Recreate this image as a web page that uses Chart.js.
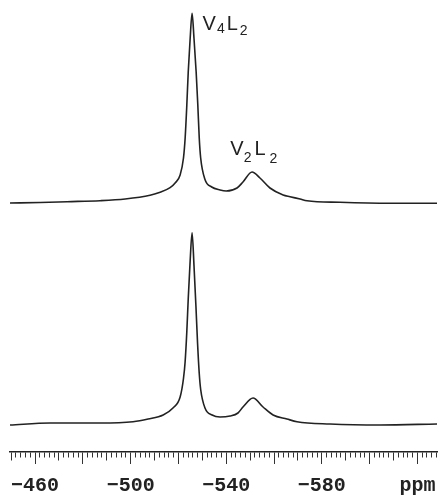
<!DOCTYPE html>
<html>
<head>
<meta charset="utf-8">
<script src="https://cdn.jsdelivr.net/npm/chart.js"></script>
<style>
  body { margin: 0; background: #fff; }
  #wrap { width: 439px; height: 495px; }
</style>
</head>
<body>
<div id="wrap"><canvas id="nmr"></canvas></div>
<script>
// upper spectrum, chemical shift (ppm) and intensity above its own baseline
const topPpm = [-449.5, -462.1, -473.4, -487.2, -497.7, -508.1, -512.0, -516.5, -518.6, -520.7, -522.1, -522.8, -523.5,
  -524.1, -524.9, -525.7, -526.5, -527.4, -528.1, -528.7, -529.3, -531.1, -533.9, -537.4, -540.0, -544.5, -547.0,
  -550.8, -554.1, -558.3, -563.8, -566.7, -570.9, -573.8, -587.6, -608.5, -628.2];
const topInt = [0.5, 1, 1.8, 2.8, 4.5, 8.2, 11.0, 15.8, 20.5, 28.5, 45.5, 65.5, 98.5,
  131.8, 165.2, 190.2, 165.2, 131.8, 98.5, 65.5, 45.5, 24.0, 16.5, 13.5, 12.5, 15.5, 21.5,
  31.5, 25.5, 15.5, 8.5, 6.8, 4.5, 2.8, 1.2, 0.2, 0.2];

// lower spectrum
const lowPpm = [-449.5, -466.3, -487.2, -501.0, -507.3, -513.6, -517.7, -520.7, -522.1, -522.8, -523.5, -524.1, -524.9,
  -525.7, -526.5, -527.3, -528.0, -528.7, -529.3, -531.1, -534.1, -537.4, -541.6, -544.9, -547.0, -551.2, -555.4,
  -559.6, -565.4, -569.6, -583.4, -604.4, -628.2];
const lowInt = [-1.5, 0.5, 0.5, 1.8, 4.5, 8.5, 15.5, 26.5, 45, 62, 92, 125, 163,
  190.8, 158, 118, 80, 50, 34, 15.5, 8.5, 6.5, 7.5, 10.5, 16.5, 25.5, 16.5,
  8.5, 4.5, 1.8, -0.5, -1.5, -0.5];

// axis
const tickLabels = [-460, -500, -540, -580];
const unitLabel = 'ppm';
const unitAt = -620;
const tickStep = 2;

const toPoints = (xs, ys) => xs.map((x, i) => ({ x: x, y: ys[i] }));

const tickValues = [];
for (let v = -628; v <= -450; v += tickStep) tickValues.push(v);

const ink = '#222';

const peakLabels = {
  id: 'peakLabels',
  afterDatasetsDraw(chart) {
    const ctx = chart.ctx;
    const xs = chart.scales.x;
    const yh = chart.scales.yHigh;
    const big = '20px "Liberation Sans", Arial, sans-serif';
    const small = '14px "Liberation Sans", Arial, sans-serif';
    const drawFormula = (parts, x, y) => {
      ctx.save();
      ctx.fillStyle = ink;
      ctx.textBaseline = 'alphabetic';
      parts.forEach(p => {
        ctx.font = p.sub ? small : big;
        ctx.fillText(p.t, x, y + (p.sub ? p.dy : 0));
        x += ctx.measureText(p.t).width + p.gap;
      });
      ctx.restore();
    };
    drawFormula([
      { t: 'V', gap: 1 }, { t: '4', sub: true, dy: 3, gap: 2 },
      { t: 'L', gap: 2 }, { t: '2', sub: true, dy: 5, gap: 0 }
    ], xs.getPixelForValue(-530.1), yh.getPixelForValue(173.5));
    drawFormula([
      { t: 'V', gap: 0 }, { t: '2', sub: true, dy: 7, gap: 3 },
      { t: 'L', gap: 4 }, { t: '2', sub: true, dy: 8, gap: 0 }
    ], xs.getPixelForValue(-541.7), yh.getPixelForValue(48.5));
  }
};

new Chart(document.getElementById('nmr'), {
  type: 'line',
  data: {
    datasets: [{
      label: 'upper',
      data: toPoints(topPpm, topInt),
      yAxisID: 'yHigh',
      borderColor: ink,
      borderWidth: 1.6,
      pointRadius: 0,
      cubicInterpolationMode: 'monotone',
      fill: false,
    }, {
      label: 'lower',
      data: toPoints(lowPpm, lowInt),
      yAxisID: 'yLow',
      borderColor: ink,
      borderWidth: 1.6,
      pointRadius: 0,
      cubicInterpolationMode: 'monotone',
      fill: false,
    }],
  },
  options: {
    responsive: true,
    maintainAspectRatio: false,
    animation: false,
    layout: { padding: { top: 5, left: 10, right: 2, bottom: 0 } },
    plugins: { legend: { display: false }, tooltip: { enabled: false } },
    scales: {
      x: {
        type: 'linear',
        position: 'bottom',
        reverse: true,
        min: -628.2,
        max: -449.5,
        border: { display: true, color: ink, width: 1.5 },
        grid: {
          drawOnChartArea: false,
          tickLength: 12,
          tickWidth: 1,
          tickColor: '#333',
          tickBorderDash: c => {
            const v = Math.round(c.tick ? c.tick.value : 0);
            if (v % 20 === 0) return [];
            if (v % 10 === 0) return [8, 20];
            return [5, 20];
          },
        },
        afterBuildTicks: axis => { axis.ticks = tickValues.map(v => ({ value: v })); },
        afterFit: axis => { axis.height = 43; },
        ticks: {
          autoSkip: false,
          maxRotation: 0,
          padding: 10,
          color: ink,
          font: { family: '"Liberation Mono", "Courier New", monospace', size: 20, weight: 'bold' },
          callback: v => {
            if (Math.abs(v - unitAt) < 0.01) return unitLabel;
            return tickLabels.some(t => Math.abs(t - v) < 0.01) ? String(v).replace('-', '\u2212') : '';
          },
        },
      },
      yLow: { display: false, min: -28.5, max: 418.5 },
      yHigh: { display: false, min: -248.5, max: 198.5 },
    },
  },
  plugins: [peakLabels],
});
</script>
</body>
</html>
